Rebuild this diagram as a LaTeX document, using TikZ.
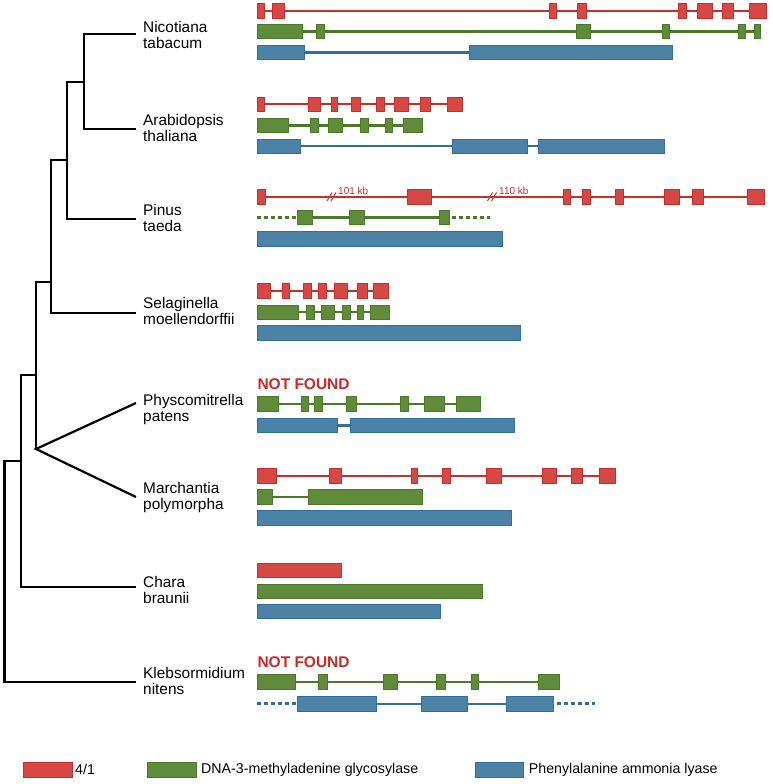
\documentclass[tikz,border=0pt]{standalone}
\usepackage{fontspec}
\setmainfont{Liberation Sans}
\definecolor{redfill}{RGB}{214,72,68}
\definecolor{redline}{RGB}{205,45,42}
\definecolor{greenfill}{RGB}{94,140,58}
\definecolor{greenline}{RGB}{74,122,40}
\definecolor{bluefill}{RGB}{76,130,166}
\definecolor{blueline}{RGB}{50,110,155}
\definecolor{notfound}{RGB}{210,38,38}
% one row of exons: style, y of the row, list of start/end
\newcommand{\exonrow}[3]{\foreach \a/\b in {#3} {\draw[#1] (\a,#2-7.3) rectangle (\b,#2+7.3);}}

\begin{document}
\begin{tikzpicture}[x=1pt,y=-1pt,
% common options for the tree:
branch/.style = {line width=2.2pt, line join=miter},
% common options for the species names:
taxon/.style = {anchor=west, align=left, inner sep=0,
            font=\fontsize{15.4}{16}\selectfont},
% common options for the gene rows:
redexon/.style = {fill=redfill, draw=redline, line width=0.7pt},
greenexon/.style = {fill=greenfill, draw=greenline, line width=0.7pt},
blueexon/.style = {fill=bluefill, draw=blueline, line width=0.7pt},
redintron/.style = {draw=redline, line width=2.2pt},
greenintron/.style = {draw=greenline, line width=2.2pt},
blueintron/.style = {draw=blueline, line width=2.2pt},
gap/.style = {dash pattern=on 3.5pt off 3.5pt, line width=2.6pt},
missing/.style = {anchor=west, inner sep=0, text=notfound,
            font=\fontsize{15.5}{16}\selectfont\bfseries},
kb/.style = {anchor=south west, inner sep=0, text=redline,
            font=\fontsize{10}{10}\selectfont},
legend/.style = {anchor=west, inner sep=0, font=\fontsize{14.2}{15}\selectfont}]
\useasboundingbox (0,0) rectangle (772,784);
% leaves and inner nodes of the tree
\coordinate (nt) at (136,34);
\coordinate (at) at (136,129);
\coordinate (pt) at (136,219);
\coordinate (sm) at (136,313);
\coordinate (pp) at (136,403);
\coordinate (mp) at (136,497);
\coordinate (cb) at (136,587);
\coordinate (kn) at (136,682);
\coordinate (n1) at (84,82);
\coordinate (n2) at (67,160);
\coordinate (n3) at (51,282);
\coordinate (n4) at (36,375);
\coordinate (bry) at (36,449);
\coordinate (n5) at (21,461);
\coordinate (root) at (4.5,570);
\draw[branch] (nt) -| (n1);
\draw[branch] (at) -| (n1);
\draw[branch] (n1) -| (n2);
\draw[branch] (pt) -| (n2);
\draw[branch] (n2) -| (n3);
\draw[branch] (sm) -| (n3);
\draw[branch] (n3) -| (n4);
\draw[branch] (bry) -- (n4);
\draw[branch] (pp) -- (bry) -- (mp);
\draw[branch] (n4) -| (n5);
\draw[branch] (cb) -| (n5);
\draw[branch] (n5) -| (root);
\draw[branch] (kn) -| (root);
% species names
\node[taxon] (T1) at (143,35) {Nicotiana\\tabacum};
\node[taxon] (T2) at (143,127.5) {Arabidopsis\\thaliana};
\node[taxon] (T3) at (143,218) {Pinus\\taeda};
\node[taxon] (T4) at (143,310.5) {Selaginella\\moellendorffii};
\node[taxon] (T5) at (143,410) {Physcomitrella\\patens};
\node[taxon] (T6) at (143,498) {Marchantia\\polymorpha};
\node[taxon] (T7) at (143,590) {Chara\\braunii};
\node[taxon] (T8) at (143,681) {Klebsormidium\\nitens};
% Nicotiana tabacum
\draw[redintron] (257.3,11) -- (766.3,11);
\exonrow{redexon}{11}{257.3/264.7, 272.7/284.3, 549.7/556.3, 577/586, 678.7/686.7, 697/712.3, 722.3/733, 749.3/766.3}
\draw[greenintron] (257.3,31.5) -- (760.7,31.5);
\exonrow{greenexon}{31.5}{257.3/302, 316/324, 576.3/590, 662/669.3, 738.7/745, 754/760.7}
\draw[blueintron] (257.3,52.5) -- (672.7,52.5);
\exonrow{blueexon}{52.5}{257.3/304, 469.3/672.7}
% Arabidopsis thaliana
\draw[redintron] (257.3,104.3) -- (462.3,104.3);
\exonrow{redexon}{104.3}{257.3/264, 308.7/320.7, 331/337, 351.3/360, 376/384, 394/408.7, 420/430.7, 447.3/462.3}
\draw[greenintron] (257.3,125.5) -- (422,125.5);
\exonrow{greenexon}{125.5}{257.3/288.3, 310.3/318.3, 328.3/342.3, 360.3/368.3, 385.7/392.3, 403.3/422}
\draw[blueintron] (257.3,146.2) -- (664.3,146.2);
\exonrow{blueexon}{146.2}{257.3/300, 452.7/527.3, 538.3/664.3}
% Pinus taeda
\draw[redintron] (257.3,196.8) -- (764.3,196.8);
\foreach \x in {327,331} {\draw[draw=redline, line width=1pt] (\x,201) -- (\x+5,192.5);}
\foreach \x in {487.5,491.5} {\draw[draw=redline, line width=1pt] (\x,201) -- (\x+5,192.5);}
\node[kb] (K1) at (338,195) {101 kb};
\node[kb] (K2) at (499,195) {110 kb};
\exonrow{redexon}{196.8}{257.3/265, 407.7/431, 563.7/570.3, 582/590.3, 615.3/623, 664/679, 692.7/703.3, 747.7/764.3}
\draw[greenintron, gap] (257.3,217.5) -- (297.3,217.5);
\draw[greenintron, gap] (452,217.5) -- (490,217.5);
\draw[greenintron] (297.3,217.5) -- (449.3,217.5);
\exonrow{greenexon}{217.5}{297.3/312.3, 349.3/364, 439.3/449.3}
\exonrow{blueexon}{238.8}{257.3/502.7}
% Selaginella moellendorffii
\draw[redintron] (257.3,290.8) -- (388,290.8);
\exonrow{redexon}{290.8}{257.3/270.7, 282.3/289.3, 303.3/311.3, 318.3/326.7, 334.3/347.3, 357/367.3, 373.3/388}
\draw[greenintron] (257.3,312.2) -- (389.3,312.2);
\exonrow{greenexon}{312.2}{257.3/298.3, 306.7/314, 321.3/334.7, 342/350, 357/363.3, 370/389.3}
\exonrow{blueexon}{333}{257.3/520}
% Physcomitrella patens
\node[missing] (M1) at (257.3,384) {NOT FOUND};
\draw[greenintron] (257.3,403.8) -- (480,403.8);
\exonrow{greenexon}{403.8}{257.3/278, 301.7/308.7, 314/322, 346.7/356, 400.7/408, 424.3/444.3, 456.7/480}
\draw[blueintron] (257.3,425.5) -- (514.3,425.5);
\exonrow{blueexon}{425.5}{257.3/337.3, 350.7/514.3}
% Marchantia polymorpha
\draw[redintron] (257.3,476) -- (615.3,476);
\exonrow{redexon}{476}{257.3/276.7, 329.3/341.3, 411/417, 442/450.7, 486/501, 542/556.7, 571.3/582, 599.3/615.3}
\draw[greenintron] (257.3,496.8) -- (422,496.8);
\exonrow{greenexon}{496.8}{257.3/272.7, 308.7/422}
\exonrow{blueexon}{517.8}{257.3/511.7}
% Chara braunii
\exonrow{redexon}{570.5}{257.3/341}
\exonrow{greenexon}{591.5}{257.3/482}
\exonrow{blueexon}{611.5}{257.3/440}
% Klebsormidium nitens
\node[missing] (M2) at (257.3,662) {NOT FOUND};
\draw[greenintron] (257.3,681.7) -- (559,681.7);
\exonrow{greenexon}{681.7}{257.3/295.3, 318.3/327.3, 383.7/397.7, 436.3/445, 471/478.3, 538/559}
\draw[blueintron, gap] (257.3,703.7) -- (297.3,703.7);
\draw[blueintron, gap] (557,703.7) -- (595,703.7);
\draw[blueintron] (297.3,703.7) -- (553.7,703.7);
\exonrow{blueexon}{703.7}{297.3/376.3, 421.7/467.7, 506.3/553.7}
% legend
\draw[redexon] (23.3,762) rectangle (72,777);
\node[legend] (L1) at (75,769.5) {4/1};
\draw[greenexon] (147.7,762) rectangle (196,777);
\node[legend] (L2) at (201,769.5) {DNA-3-methyladenine glycosylase};
\draw[blueexon] (475,762) rectangle (523,777);
\node[legend] (L3) at (528.7,769.5) {Phenylalanine ammonia lyase};
\end{tikzpicture}
\end{document}
